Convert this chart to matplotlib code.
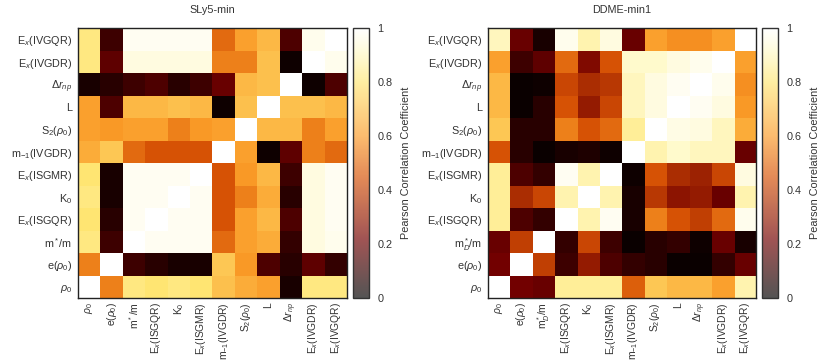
import numpy as np
import matplotlib
matplotlib.use('Agg')
import matplotlib.pyplot as plt
from matplotlib.colors import LinearSegmentedColormap, Normalize
from matplotlib.cm import ScalarMappable

plt.rcParams['font.family'] = ['Liberation Sans', 'DejaVu Sans']
plt.rcParams['mathtext.fontset'] = 'custom'
plt.rcParams['mathtext.rm'] = 'Liberation Sans'
plt.rcParams['mathtext.it'] = 'Liberation Sans:italic'
plt.rcParams['mathtext.bf'] = 'Liberation Sans:bold'

# labels (bottom to top on y, left to right on x)
labels_sly5 = [r'$\rho_0$', r'e($\rho_0$)', r'm$^*$/m', r'E$_x$(ISGQR)', r'K$_0$', r'E$_x$(ISGMR)',
               r'm$_{-1}$(IVGDR)', r'S$_2$($\rho_0$)', 'L', r'$\Delta r_{np}$', r'E$_x$(IVGDR)', r'E$_x$(IVGQR)']
labels_ddme = [r'$\rho_0$', r'e($\rho_0$)', r'm$^*_D$/m', r'E$_x$(ISGQR)', r'K$_0$', r'E$_x$(ISGMR)',
               r'm$_{-1}$(IVGDR)', r'S$_2$($\rho_0$)', 'L', r'$\Delta r_{np}$', r'E$_x$(IVGDR)', r'E$_x$(IVGQR)']

# |Pearson r|, rows bottom (rho0) to top (IVGQR)
sly5 = [
    [1.00, 0.55, 0.82, 0.80, 0.82, 0.80, 0.70, 0.65, 0.62, 0.05, 0.82, 0.82],
    [0.55, 1.00, 0.12, 0.08, 0.05, 0.05, 0.72, 0.60, 0.15, 0.08, 0.18, 0.10],
    [0.82, 0.12, 1.00, 0.98, 0.98, 0.98, 0.50, 0.62, 0.65, 0.10, 0.95, 0.97],
    [0.80, 0.08, 0.98, 1.00, 0.98, 0.98, 0.45, 0.62, 0.68, 0.15, 0.95, 0.98],
    [0.82, 0.05, 0.98, 0.98, 1.00, 0.98, 0.45, 0.55, 0.65, 0.08, 0.95, 0.98],
    [0.80, 0.05, 0.98, 0.98, 0.98, 1.00, 0.45, 0.60, 0.68, 0.12, 0.95, 0.98],
    [0.65, 0.72, 0.50, 0.45, 0.45, 0.45, 1.00, 0.62, 0.03, 0.18, 0.55, 0.50],
    [0.62, 0.60, 0.62, 0.62, 0.55, 0.60, 0.62, 1.00, 0.68, 0.68, 0.55, 0.62],
    [0.62, 0.15, 0.68, 0.68, 0.70, 0.68, 0.03, 0.70, 1.00, 0.70, 0.70, 0.68],
    [0.05, 0.08, 0.12, 0.15, 0.08, 0.12, 0.20, 0.68, 0.70, 1.00, 0.03, 0.15],
    [0.82, 0.18, 0.95, 0.95, 0.95, 0.95, 0.55, 0.55, 0.70, 0.03, 1.00, 0.97],
    [0.82, 0.12, 0.98, 0.98, 0.98, 0.98, 0.50, 0.62, 0.68, 0.15, 0.97, 1.00],
]

ddme = [
    [1.00, 0.22, 0.20, 0.85, 0.85, 0.85, 0.48, 0.72, 0.68, 0.68, 0.62, 0.88],
    [0.22, 1.00, 0.40, 0.12, 0.30, 0.15, 0.10, 0.08, 0.02, 0.02, 0.10, 0.20],
    [0.20, 0.40, 1.00, 0.10, 0.42, 0.12, 0.02, 0.08, 0.10, 0.03, 0.20, 0.05],
    [0.85, 0.15, 0.10, 1.00, 0.88, 0.98, 0.05, 0.55, 0.45, 0.40, 0.50, 0.97],
    [0.85, 0.35, 0.42, 0.88, 1.00, 0.88, 0.05, 0.38, 0.28, 0.30, 0.20, 0.88],
    [0.85, 0.15, 0.10, 0.98, 0.88, 1.00, 0.03, 0.45, 0.35, 0.32, 0.42, 0.95],
    [0.45, 0.08, 0.02, 0.05, 0.06, 0.03, 1.00, 0.88, 0.92, 0.90, 0.90, 0.20],
    [0.72, 0.08, 0.08, 0.55, 0.45, 0.50, 0.85, 1.00, 0.96, 0.95, 0.90, 0.65],
    [0.68, 0.02, 0.08, 0.45, 0.30, 0.42, 0.90, 0.95, 1.00, 0.98, 0.95, 0.60],
    [0.68, 0.02, 0.03, 0.42, 0.35, 0.38, 0.90, 0.95, 0.98, 1.00, 0.97, 0.58],
    [0.62, 0.12, 0.18, 0.50, 0.25, 0.45, 0.92, 0.92, 0.95, 0.97, 1.00, 0.62],
    [0.90, 0.20, 0.05, 0.97, 0.88, 0.95, 0.20, 0.62, 0.58, 0.58, 0.62, 1.00],
]

titles = ['SLy5-min', 'DDME-min1']

# hot-like palette
stops = [
    (0.0, (0.0, 0.0, 0.0)),
    (0.22, (0.45, 0.0, 0.0)),
    (0.45, (0.84, 0.32, 0.02)),
    (0.6, (0.98, 0.6, 0.15)),
    (0.8, (1.0, 0.9, 0.45)),
    (0.92, (1.0, 0.98, 0.8)),
    (1.0, (1.0, 1.0, 1.0)),
]
cmap = LinearSegmentedColormap.from_list('hotish', stops)
# colour bar drawn faded (as if semi-transparent over white)
a = 0.67
faded = [(p, tuple(a * c + (1 - a) for c in col)) for p, col in stops]
cmap_bar = LinearSegmentedColormap.from_list('hotish_faded', faded)

fig = plt.figure(figsize=(8.26, 3.62), dpi=100)
W, H = 826, 362

# pixel boxes: heatmap [x0, x1], colorbar [x0, x1], shared y range
boxes = [((78, 347), (353, 369)), ((488, 756), (762, 778))]
y0, y1 = 28, 298

for k, (data, labels, title) in enumerate(zip([sly5, ddme], [labels_sly5, labels_ddme], titles)):
    (hx0, hx1), (cx0, cx1) = boxes[k]
    ax = fig.add_axes([hx0 / W, 1 - y1 / H, (hx1 - hx0) / W, (y1 - y0) / H])
    ax.imshow(np.array(data), cmap=cmap, vmin=0, vmax=1, origin='lower',
              aspect='auto', interpolation='nearest')
    ax.set_xticks(range(12))
    ax.set_yticks(range(12))
    ax.set_xticklabels(labels, rotation=90, fontsize=7.4, color='#333333')
    ax.set_yticklabels(labels, fontsize=7.8, color='#333333')
    ax.tick_params(axis='y', length=0, pad=4)
    ax.tick_params(axis='x', length=0, pad=3)
    for s in ax.spines.values():
        s.set_linewidth(1.0)
        s.set_color('#222222')
    ax.set_title(title, fontsize=7.8, color='#333333', pad=11)

    cax = fig.add_axes([cx0 / W, 1 - y1 / H, (cx1 - cx0) / W, (y1 - y0) / H])
    sm = ScalarMappable(norm=Normalize(0, 1), cmap=cmap_bar)
    cb = fig.colorbar(sm, cax=cax)
    cb.set_ticks([0, 0.2, 0.4, 0.6, 0.8, 1])
    cb.set_ticklabels(['0', '0.2', '0.4', '0.6', '0.8', '1'])
    cb.ax.tick_params(length=0, labelsize=7.8, labelcolor='#333333', pad=6)
    cb.outline.set_edgecolor('#333333')
    cb.outline.set_linewidth(1.0)
    cb.set_label('Pearson Correlation Coefficient', fontsize=7.8, color='#333333', labelpad=6)

fig.savefig('out.png', dpi=100)
